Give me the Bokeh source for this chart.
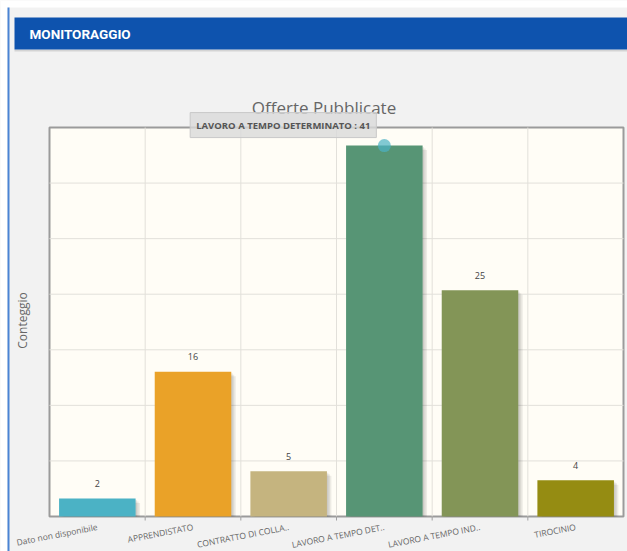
import numpy as np
from bokeh.plotting import figure
from bokeh.models import Range1d, Label, ColumnDataSource
from bokeh.core.properties import value
from bokeh.embed import file_html
from bokeh.resources import INLINE

# ---------------- data ----------------
categories = ["Dato non disponibile", "APPRENDISTATO", "CONTRATTO DI COLLA..",
              "LAVORO A TEMPO DET..", "LAVORO A TEMPO IND..", "TIROCINIO"]
values = [2, 16, 5, 41, 25, 4]
colors = ["#4bb2c5", "#EAA228", "#c5b47f", "#579575", "#839557", "#958c12"]
tooltip_category = "LAVORO A TEMPO DETERMINATO"
chart_title = "Offerte Pubblicate"
y_label = "Conteggio"
header_text = "MONITORAGGIO"
y_max = 43
n_y_ticks = 8

# ---------------- layout (page pixels) ----------------
W, H = 627, 551
PL, PR, PT, PB = 49, 623, 127, 516  # plot area box on the page
FONT = "Open Sans"

n = len(categories)
px_x = (PR - PL) / n
px_y = (PB - PT) / y_max

p = figure(width=W, height=H, x_range=Range1d(0, W), y_range=Range1d(H, 0),
           x_axis_type=None, y_axis_type=None, min_border=0,
           output_backend="svg", toolbar_location=None,
           background_fill_color="#f2f2f2", border_fill_color="#f2f2f2",
           outline_line_color=None)
# chart scales placed inside the page
p.extra_x_ranges = {"cat": Range1d(start=-PL / px_x, end=n + (W - PR) / px_x)}
p.extra_y_ranges = {"val": Range1d(start=-(H - PB) / px_y, end=y_max + PT / px_y)}
C = dict(x_range_name="cat", y_range_name="val")

# ---------------- page decorations ----------------
p.quad(left=[0, 0], right=[W, 7], top=[0, 0], bottom=[7, H], fill_color="white", line_color=None)
p.quad(left=[7], right=[9], top=[7], bottom=[H], fill_color="#4a84d4", line_color=None)
p.quad(left=[14], right=[W], top=[49], bottom=[51], fill_color="#d4d4d4", line_color=None)
p.quad(left=[14], right=[W], top=[17], bottom=[49], fill_color="#0e53ae", line_color=None)
p.text(x=[29], y=[33.5], text=[header_text], text_align="left", text_baseline="middle",
       text_font=value("Roboto"), text_font_size="13.5px",
       text_font_style="bold", text_color="white")

# ---------------- chart ----------------
xc = np.arange(n) + 0.5
labels = [("" if v == max(values) else str(v)) for v in values]
src = ColumnDataSource(dict(x=xc, top=values, color=colors, cat=categories, lab=labels))

# plot area background and border
p.quad(left=[0], right=[n], bottom=[0], top=[y_max], fill_color="#fffdf6",
       line_color="#9b9b9b", line_width=2, **C)
# grid
yt = np.linspace(0, y_max, n_y_ticks)[1:-1]
p.segment(x0=0, y0=yt, x1=n, y1=yt, line_color="#e2e0da", line_width=1, **C)
xt = np.arange(1, n)
p.segment(x0=xt, y0=0, x1=xt, y1=y_max, line_color="#e2e0da", line_width=1, **C)
# tick marks below the axis
p.segment(x0=xt, y0=0, x1=xt, y1=-4 / px_y, line_color="#a0a0a0", line_width=1, **C)

# bar shadows
for k in (1, 2, 3):
    p.vbar(x=xc + 1.5 * k / px_x, top=np.array(values) - 1.5 * k / px_y, width=0.8,
           fill_color="black", fill_alpha=0.07, line_color=None, **C)
# bars
p.vbar(x="x", top="top", width=0.8, fill_color="color", line_color=None, source=src, **C)

# value labels
p.text(x="x", y="top", text="lab", source=src, text_align="center", text_baseline="middle",
       y_offset=-15, text_font_size="9px", text_color="#444444", text_font=value(FONT), **C)

# category labels
p.text(x="x", y=0, text="cat", source=src, y_offset=10, angle=11, angle_units="deg",
       text_align="right", text_baseline="middle", text_font_size="8.5px",
       text_color="#666666", text_font=value(FONT), **C)

# highlighted point + tooltip
i_max = int(np.argmax(values))
p.scatter(x=[xc[i_max]], y=[values[i_max]], size=13, fill_color="#4bb2c5", fill_alpha=0.7,
          line_color=None, **C)
p.add_layout(Label(x=xc[i_max], y=values[i_max], x_offset=-8, y_offset=8,
                   text=f"{tooltip_category} : {values[i_max]}",
                   text_align="right", text_baseline="bottom", text_font=FONT,
                   text_font_size="9.5px", text_font_style="bold", text_color="#555555",
                   background_fill_color="#d9d9d9", background_fill_alpha=0.8,
                   border_line_color="#c8c8c8", padding=6, **C))

# title and y-axis label
p.text(x=[323.5], y=[107], text=[chart_title], text_align="center", text_baseline="middle",
       text_font=value(FONT), text_font_size="17px", text_color="#666666")
p.text(x=[22], y=[320], text=[y_label], angle=90, angle_units="deg", text_align="center",
       text_baseline="middle", text_font=value(FONT), text_font_size="12px",
       text_color="#666666")

open("out.html", "w").write(file_html(p, INLINE))
